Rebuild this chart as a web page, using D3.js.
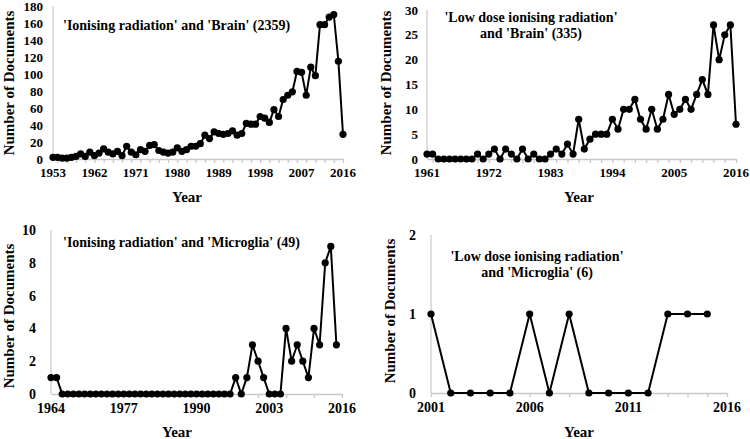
<!DOCTYPE html>
<meta charset="utf-8">
<style>
body { margin: 0; background: #fff; }
svg text {
    font-family: 'Liberation Serif', 'Times New Roman', Times, serif;
    font-weight: bold;
    fill: #000;
}
.axis path,
.axis line {
    fill: none;
    stroke: #c8c8c8;
    stroke-width: 1.3;
}
.series {
    fill: none;
    stroke: #000;
    stroke-width: 2;
}
</style>
<svg width="750" height="439"></svg>
<script src="https://d3js.org/d3.v7.min.js"></script>
<script>

// 'Ionising radiation' and 'Brain', 1953-2016
var brainYears = d3.range(1953, 2017);
var brainDocs = [2, 2, 1, 1, 2, 3, 6, 3, 8, 4, 7, 12, 8, 6, 9, 4, 15, 8, 5, 11, 9, 16, 17,
    10, 8, 7, 8, 13, 9, 11, 15, 15, 18, 28, 24, 32, 30, 29, 30, 33, 28, 30, 42,
    41, 41, 50, 48, 43, 58, 50, 70, 75, 79, 103, 102, 75, 108, 98, 158, 158, 167, 170, 115, 29];
var brainTicks = [1953, 1962, 1971, 1980, 1989, 1998, 2007, 2016];

// 'Low dose ionising radiation' and 'Brain', 1961-2016
var lowBrainYears = d3.range(1961, 2017);
var lowBrainDocs = [1, 1, 0, 0, 0, 0, 0, 0, 0, 1, 0, 1, 2, 0, 2, 1, 0, 2, 0, 1, 0, 0, 1, 2,
    1, 3, 1, 8, 2, 4, 5, 5, 5, 8, 6, 10, 10, 12, 8, 6, 10, 6, 8, 13, 9, 10, 12, 10, 13, 16, 13,
    27, 20, 25, 27, 7];
var lowBrainTicks = [1961, 1972, 1983, 1994, 2005, 2016];

// 'Ionising radiation' and 'Microglia', 1964-2015 (axis runs to 2016)
var microYears = d3.range(1964, 2016);
var microDocs = [1, 1, 0, 0, 0, 0, 0, 0, 0, 0, 0, 0, 0, 0, 0, 0, 0, 0, 0, 0, 0, 0, 0, 0,
    0, 0, 0, 0, 0, 0, 0, 0, 0, 1, 0, 1, 3, 2, 1, 0, 0, 0, 4, 2, 3, 2, 1, 4, 3, 8, 9, 3];
var microTicks = [1964, 1977, 1990, 2003, 2016];

// 'Low dose ionising radiation' and 'Microglia', 2001-2015 (axis runs to 2016)
var lowMicroYears = d3.range(2001, 2016);
var lowMicroDocs = [1, 0, 0, 0, 0, 1, 0, 1, 0, 0, 0, 0, 1, 1, 1];
var lowMicroTicks = [2001, 2006, 2011, 2016];

var FONT = "'Liberation Serif', 'Times New Roman', Times, serif";
var svg = d3.select("svg");

function drawPanel(p) {
    var x = d3.scalePoint().domain(d3.range(p.first, p.last + 1)).range([p.x0, p.x1]);
    var y = d3.scaleLinear().domain([0, p.yMax]).range([p.y0, p.y1]);
    var g = svg.append("g").attr("font-family", FONT).attr("font-weight", "bold");

    // x axis, small marks only
    var xa = g.append("g")
        .attr("class", "axis")
        .attr("transform", "translate(0," + p.y0 + ")")
        .call(d3.axisBottom(x)
            .tickValues(d3.range(p.first, p.last + 1).filter(function(d) { return (p.last - d) % p.tickStep == 0; }))
            .tickSize(4).tickSizeOuter(0).tickFormat(""));
    xa.selectAll("text").remove();

    g.selectAll(".xlab")
        .data(p.ticks)
        .enter().append("text")
        .attr("x", function(d) { return x(d); })
        .attr("y", p.y0 + p.xLabDy)
        .attr("text-anchor", "middle")
        .attr("font-size", p.xFont + "px")
        .text(function(d) { return d; });

    // y axis line + labels
    g.append("line")
        .attr("x1", p.x0).attr("x2", p.x0)
        .attr("y1", y(p.yMax)).attr("y2", p.y0)
        .attr("stroke", "#d0d0d0").attr("stroke-width", 1.3);

    g.selectAll(".ylab")
        .data(d3.range(0, p.yMax + 0.001, p.yStep))
        .enter().append("text")
        .attr("x", p.yLabX)
        .attr("y", function(d) { return y(d); })
        .attr("dy", "0.35em")
        .attr("text-anchor", "end")
        .attr("font-size", p.yFont + "px")
        .text(function(d) { return d; });

    // series
    var pts = p.years.map(function(d, i) { return [d, p.docs[i]]; });
    g.append("path")
        .attr("class", "series")
        .attr("d", d3.line()
            .x(function(d) { return x(d[0]); })
            .y(function(d) { return y(d[1]); })(pts));
    g.selectAll(".dot")
        .data(pts)
        .enter().append("circle")
        .attr("cx", function(d) { return x(d[0]); })
        .attr("cy", function(d) { return y(d[1]); })
        .attr("r", 3.6)
        .attr("fill", "#000");

    // titles
    g.append("text")
        .attr("transform", "translate(" + p.yTitleX + "," + p.yTitleY + ") rotate(-90)")
        .attr("text-anchor", "middle")
        .attr("dy", "0.35em")
        .attr("font-size", "15px")
        .text("Number of Documents");

    g.append("text")
        .attr("x", p.xTitleX)
        .attr("y", p.xTitleY)
        .attr("dy", "0.35em")
        .attr("text-anchor", "middle")
        .attr("font-size", "15px")
        .text("Year");

    g.selectAll(".title")
        .data(p.title)
        .enter().append("text")
        .attr("x", p.titleX)
        .attr("y", function(d, i) { return p.titleY + i * 16; })
        .attr("dy", "0.35em")
        .attr("text-anchor", p.titleAnchor)
        .attr("font-size", "14px")
        .text(function(d) { return d; });
}

drawPanel({
    years: brainYears, docs: brainDocs, ticks: brainTicks, first: 1953, last: 2016, tickStep: 2,
    x0: 53, x1: 343, y0: 159, y1: 6, yMax: 180, yStep: 20,
    yLabX: 43, yFont: 13, xFont: 13, xLabDy: 18,
    yTitleX: 9, yTitleY: 83, xTitleX: 187, xTitleY: 197,
    title: ["'Ionising radiation' and 'Brain' (2359)"], titleX: 63, titleY: 25, titleAnchor: "start"
});

drawPanel({
    years: lowBrainYears, docs: lowBrainDocs, ticks: lowBrainTicks, first: 1961, last: 2016, tickStep: 2,
    x0: 427, x1: 736, y0: 159, y1: 10, yMax: 30, yStep: 5,
    yLabX: 418, yFont: 13, xFont: 13, xLabDy: 18,
    yTitleX: 386, yTitleY: 83, xTitleX: 579, xTitleY: 197,
    title: ["'Low dose ionising radiation'", "and 'Brain' (335)"], titleX: 531, titleY: 17, titleAnchor: "middle"
});

drawPanel({
    years: microYears, docs: microDocs, ticks: microTicks, first: 1964, last: 2016, tickStep: 5,
    x0: 51, x1: 342, y0: 394, y1: 230, yMax: 10, yStep: 2,
    yLabX: 36, yFont: 14, xFont: 14, xLabDy: 19,
    yTitleX: 9, yTitleY: 316, xTitleX: 177, xTitleY: 432,
    title: ["'Ionising radiation' and 'Microglia' (49)"], titleX: 63, titleY: 242, titleAnchor: "start"
});

drawPanel({
    years: lowMicroYears, docs: lowMicroDocs, ticks: lowMicroTicks, first: 2001, last: 2016, tickStep: 1,
    x0: 431, x1: 727, y0: 393, y1: 235, yMax: 2, yStep: 1,
    yLabX: 416, yFont: 14, xFont: 14, xLabDy: 19,
    yTitleX: 390, yTitleY: 311, xTitleX: 579, xTitleY: 432,
    title: ["'Low dose ionising radiation'", "and 'Microglia' (6)"], titleX: 537, titleY: 256, titleAnchor: "middle"
});

</script>
